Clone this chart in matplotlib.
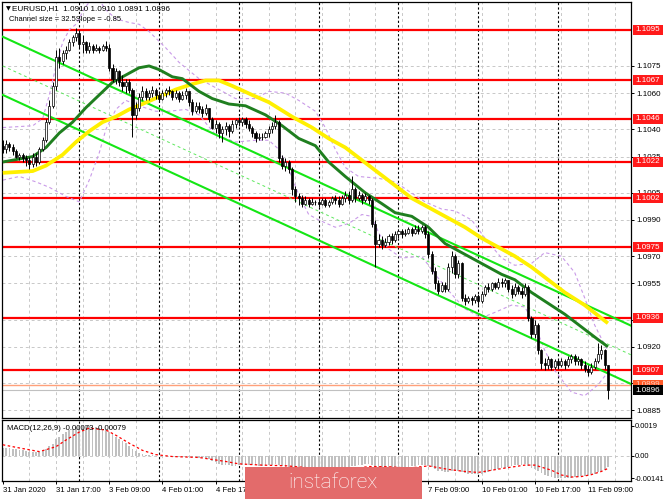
import matplotlib
matplotlib.use("Agg")
import matplotlib.pyplot as plt
import matplotlib.transforms as mtransforms
from matplotlib.patches import Rectangle

W, H = 665, 499
FONT = ['Liberation Sans', 'DejaVu Sans']

# EURUSD H1 candles, bar 0 = 31 Jan 2020 01:00, last bar = 11 Feb 15:00
first_open = 1.1031
close = [
    1.1029, 1.1032, 1.1030, 1.1028, 1.1025, 1.1026, 1.1024, 1.1023, 1.1021, 1.1025,
    1.1022, 1.1029, 1.1034, 1.1044, 1.1053, 1.1064, 1.1080, 1.1078, 1.1082, 1.1084,
    1.1088, 1.1091, 1.1093, 1.1087, 1.1088, 1.1084, 1.1086, 1.1084, 1.1085, 1.1084,
    1.1086, 1.1085, 1.1074, 1.1068, 1.1072, 1.1066, 1.1064, 1.1066, 1.1062, 1.1048,
    1.1052, 1.1058, 1.1061, 1.1058, 1.1060, 1.1062, 1.1059, 1.1057, 1.1060, 1.1062,
    1.1061, 1.1058, 1.1060, 1.1057, 1.1059, 1.1061, 1.1055, 1.1050, 1.1053, 1.1051,
    1.1049, 1.1052, 1.1046, 1.1041, 1.1043, 1.1038, 1.1040, 1.1042, 1.1039, 1.1043,
    1.1045, 1.1044, 1.1046, 1.1043, 1.1041, 1.1038, 1.1035, 1.1036, 1.1036, 1.1038,
    1.1040, 1.1042, 1.1044, 1.1024, 1.1020, 1.1022, 1.1018, 1.1007, 1.1003, 1.1002,
    1.0999, 1.1001, 1.0999, 1.1000, 1.1000, 1.0999, 1.1001, 1.0998, 1.1000, 1.1002,
    1.1001, 1.0999, 1.1002, 1.1004, 1.1001, 1.1007, 1.1002, 1.1004, 1.1001, 1.1003,
    1.1001, 1.0988, 1.0977, 1.0979, 1.0976, 1.0978, 1.0981, 1.0979, 1.0982, 1.0984,
    1.0982, 1.0983, 1.0985, 1.0983, 1.0985, 1.0984, 1.0986, 1.0982, 1.0971, 1.0962,
    1.0955, 1.0951, 1.0954, 1.0952, 1.0964, 1.0970, 1.0960, 1.0966, 1.0947, 1.0945,
    1.0947, 1.0946, 1.0948, 1.0945, 1.0949, 1.0953, 1.0952, 1.0955, 1.0953, 1.0956,
    1.0955, 1.0957, 1.0952, 1.0949, 1.0953, 1.0951, 1.0949, 1.0953, 1.0936, 1.0927,
    1.0932, 1.0918, 1.0911, 1.0910, 1.0913, 1.0909, 1.0912, 1.0910, 1.0912, 1.0910,
    1.0913, 1.0915, 1.0912, 1.0913, 1.0910, 1.0908, 1.0906, 1.0909, 1.0912, 1.0916,
    1.0918, 1.0910, 1.0896]
high = [
    1.1034, 1.1034, 1.1033, 1.1032, 1.1029, 1.1027, 1.1027, 1.1026, 1.1025, 1.1027,
    1.1027, 1.1030, 1.1036, 1.1046, 1.1056, 1.1066, 1.1084, 1.1085, 1.1084, 1.1086,
    1.1090, 1.1092, 1.1096, 1.1095, 1.1092, 1.1089, 1.1088, 1.1087, 1.1087, 1.1086,
    1.1087, 1.1089, 1.1087, 1.1076, 1.1074, 1.1073, 1.1070, 1.1068, 1.1068, 1.1063,
    1.1055, 1.1060, 1.1064, 1.1063, 1.1062, 1.1064, 1.1063, 1.1061, 1.1062, 1.1063,
    1.1064, 1.1062, 1.1062, 1.1061, 1.1061, 1.1063, 1.1061, 1.1057, 1.1055, 1.1055,
    1.1053, 1.1054, 1.1052, 1.1047, 1.1045, 1.1044, 1.1042, 1.1044, 1.1043, 1.1045,
    1.1046, 1.1047, 1.1047, 1.1047, 1.1045, 1.1042, 1.1039, 1.1038, 1.1038, 1.1039,
    1.1042, 1.1044, 1.1048, 1.1045, 1.1026, 1.1024, 1.1023, 1.1019, 1.1009, 1.1005,
    1.1004, 1.1003, 1.1002, 1.1002, 1.1001, 1.1002, 1.1002, 1.1002, 1.1001, 1.1003,
    1.1004, 1.1003, 1.1004, 1.1006, 1.1006, 1.1014, 1.1008, 1.1006, 1.1005, 1.1005,
    1.1004, 1.1002, 1.0990, 1.0982, 1.0981, 1.0980, 1.0982, 1.0983, 1.0984, 1.0985,
    1.0985, 1.0985, 1.0986, 1.0986, 1.0987, 1.0987, 1.0987, 1.0987, 1.0984, 1.0973,
    1.0964, 1.0957, 1.0956, 1.0956, 1.0966, 1.0973, 1.0971, 1.0968, 1.0967, 1.0949,
    1.0948, 1.0948, 1.0949, 1.0949, 1.0951, 1.0954, 1.0955, 1.0956, 1.0956, 1.0958,
    1.0958, 1.0958, 1.0957, 1.0954, 1.0955, 1.0954, 1.0953, 1.0955, 1.0954, 1.0937,
    1.0935, 1.0933, 1.0919, 1.0914, 1.0915, 1.0914, 1.0913, 1.0913, 1.0914, 1.0913,
    1.0915, 1.0916, 1.0916, 1.0915, 1.0914, 1.0912, 1.0910, 1.0911, 1.0914, 1.0922,
    1.0921, 1.0919, 1.0910]
low = [
    1.1027, 1.1027, 1.1028, 1.1026, 1.1024, 1.1023, 1.1022, 1.1020, 1.1018, 1.1019,
    1.1020, 1.1021, 1.1028, 1.1033, 1.1043, 1.1052, 1.1062, 1.1074, 1.1076, 1.1079,
    1.1083, 1.1086, 1.1089, 1.1085, 1.1082, 1.1082, 1.1082, 1.1082, 1.1083, 1.1082,
    1.1083, 1.1083, 1.1072, 1.1066, 1.1065, 1.1064, 1.1061, 1.1060, 1.1060, 1.1036,
    1.1046, 1.1050, 1.1056, 1.1056, 1.1056, 1.1058, 1.1057, 1.1055, 1.1056, 1.1058,
    1.1059, 1.1056, 1.1057, 1.1055, 1.1056, 1.1057, 1.1053, 1.1048, 1.1049, 1.1049,
    1.1047, 1.1048, 1.1044, 1.1040, 1.1038, 1.1035, 1.1033, 1.1037, 1.1036, 1.1038,
    1.1041, 1.1042, 1.1042, 1.1041, 1.1039, 1.1036, 1.1033, 1.1034, 1.1034, 1.1035,
    1.1036, 1.1038, 1.1040, 1.1022, 1.1018, 1.1017, 1.1016, 1.1004, 1.1000, 1.0998,
    1.0997, 1.0998, 1.0997, 1.0998, 1.0998, 1.0997, 1.0998, 1.0997, 1.0997, 1.0999,
    1.0999, 1.0997, 1.0998, 1.1000, 1.0999, 1.1000, 1.1000, 1.1001, 1.0999, 1.1000,
    1.0999, 1.0986, 1.0964, 1.0975, 1.0974, 1.0975, 1.0976, 1.0977, 1.0978, 1.0980,
    1.0980, 1.0981, 1.0982, 1.0981, 1.0982, 1.0982, 1.0983, 1.0980, 1.0969, 1.0960,
    1.0952, 1.0949, 1.0950, 1.0950, 1.0951, 1.0961, 1.0958, 1.0958, 1.0945, 1.0943,
    1.0944, 1.0943, 1.0944, 1.0943, 1.0944, 1.0948, 1.0950, 1.0951, 1.0952, 1.0952,
    1.0953, 1.0953, 1.0950, 1.0947, 1.0948, 1.0949, 1.0947, 1.0948, 1.0934, 1.0925,
    1.0925, 1.0916, 1.0908, 1.0907, 1.0908, 1.0907, 1.0908, 1.0908, 1.0909, 1.0908,
    1.0909, 1.0911, 1.0910, 1.0910, 1.0908, 1.0906, 1.0904, 1.0905, 1.0908, 1.0911,
    1.0913, 1.0908, 1.0891]

# moving averages (bar, price)
ma_green_bars = [0, 9, 13, 17, 21, 25, 29, 33, 37, 41, 44, 47, 51, 54, 59, 63, 68, 73,
                 79, 84, 89, 94, 98, 103, 109, 114, 118, 123, 128, 133, 138, 144, 150,
                 154, 159, 164, 169, 174, 179, 182]
ma_green = [1.1022, 1.1025, 1.1030, 1.1038, 1.1044, 1.1052, 1.1059, 1.1066, 1.1070,
            1.1074, 1.1075, 1.1073, 1.1069, 1.1068, 1.1061, 1.1057, 1.1054, 1.1053,
            1.1048, 1.1042, 1.1035, 1.1031, 1.1022, 1.1014, 1.1005, 1.0999, 1.0994,
            1.0992, 1.0986, 1.0977, 1.0972, 1.0966, 1.0960, 1.0957, 1.0950, 1.0944,
            1.0938, 1.0931, 1.0924, 1.0920]
ma_yellow_bars = [0, 9, 13, 18, 22, 26, 30, 34, 38, 42, 47, 52, 57, 61, 65, 69, 75, 80,
                  87, 93, 98, 103, 108, 113, 118, 123, 129, 134, 139, 144, 149, 154,
                  159, 164, 169, 175, 182]
ma_yellow = [1.1016, 1.1017, 1.1020, 1.1026, 1.1033, 1.1039, 1.1044, 1.1047, 1.1051,
             1.1054, 1.1058, 1.1062, 1.1065, 1.1067, 1.1067, 1.1064, 1.1059, 1.1055,
             1.1047, 1.1041, 1.1035, 1.1030, 1.1023, 1.1016, 1.1009, 1.1002, 1.0996,
             1.0991, 1.0986, 1.0980, 1.0975, 1.0970, 1.0964, 1.0957, 1.0950, 1.0943,
             1.0933]

# bollinger bands (bar, price)
bb_up_bars = [0, 9, 12, 14, 16, 18, 20, 22, 25, 28, 31, 34, 38, 41, 44, 49, 53, 59, 64,
              70, 76, 80, 85, 89, 94, 97, 100, 103, 107, 113, 118, 122, 127, 132, 136,
              141, 145, 150, 154, 159, 163, 168, 172, 175, 178, 181, 182]
bb_up = [1.1041, 1.1042, 1.1046, 1.1059, 1.1075, 1.1088, 1.1095, 1.1098, 1.1108, 1.1114,
         1.1106, 1.1101, 1.1099, 1.1098, 1.1094, 1.1085, 1.1077, 1.1068, 1.1063, 1.1057,
         1.1057, 1.1061, 1.1060, 1.1056, 1.1050, 1.1041, 1.1029, 1.1019, 1.1014, 1.1013,
         1.1011, 1.1006, 1.1000, 1.0996, 1.0995, 1.0990, 1.0980, 1.0969, 1.0965, 1.0966,
         1.0972, 1.0970, 1.0961, 1.0947, 1.0932, 1.0921, 1.0918]
bb_lo_bars = [0, 5, 10, 14, 19, 23, 26, 29, 31, 34, 37, 41, 46, 50, 55, 59, 64, 70, 76,
              80, 83, 86, 89, 92, 95, 100, 104, 108, 111, 113, 116, 120, 126, 130, 135,
              139, 144, 148, 153, 157, 160, 163, 166, 171, 175, 179, 182]
bb_lo = [1.1012, 1.1014, 1.1011, 1.1008, 1.1003, 1.1000, 1.1012, 1.1027, 1.1040, 1.1051,
         1.1056, 1.1053, 1.1050, 1.1050, 1.1051, 1.1048, 1.1037, 1.1033, 1.1034, 1.1034,
         1.1029, 1.1018, 1.1004, 1.0993, 1.0990, 1.0986, 1.0988, 1.0993, 1.0992, 1.0983,
         1.0974, 1.0969, 1.0970, 1.0960, 1.0949, 1.0941, 1.0936, 1.0939, 1.0943, 1.0942,
         1.0932, 1.0918, 1.0907, 1.0895, 1.0893, 1.0899, 1.0906]

# regression channel, price at left edge and right edge
chan_bars = [0, 188.9]
chan_top = [1.10911, 1.09317]
chan_mid = [1.10750, 1.09156]
chan_bot = [1.10590, 1.08995]

levels = [1.1095, 1.1067, 1.1046, 1.1022, 1.1002, 1.0975, 1.0936, 1.0907]
ask_level = 1.0899
bid_level = 1.0896

price_ticks = [1.1075, 1.1060, 1.1040, 1.1025, 1.1005, 1.0990, 1.0970, 1.0955,
               1.0935, 1.0920, 1.0900, 1.0885]

# MACD(12,26,9) main line in 1e-5 units, one value per bar
macd_e5 = [
    52, 50, 48, 45, 42, 38, 35, 30, 26, 24,
    22, 25, 32, 45, 60, 78, 105, 122, 138, 150,
    162, 172, 182, 186, 189, 190, 188, 184, 180, 175,
    170, 165, 150, 135, 122, 108, 95, 82, 62, 42,
    28, 18, 12, 8, 5, 3, 2, 0, -1, -2,
    -3, -4, -5, -6, -6, -5, -7, -9, -10, -11,
    -13, -15, -20, -30, -40, -48, -55, -58, -60, -62,
    -62, -60, -58, -57, -57, -58, -60, -61, -61, -60,
    -58, -56, -54, -60, -66, -70, -74, -82, -89, -94,
    -98, -100, -101, -101, -100, -98, -95, -92, -89, -85,
    -82, -80, -76, -72, -70, -64, -62, -58, -57, -54,
    -53, -60, -70, -75, -80, -82, -82, -82, -80, -77,
    -75, -72, -68, -66, -63, -60, -57, -56, -62, -72,
    -83, -92, -98, -102, -100, -96, -97, -95, -104, -110,
    -114, -116, -116, -116, -112, -108, -103, -97, -91, -85,
    -79, -74, -69, -64, -60, -57, -55, -54, -62, -75,
    -84, -97, -110, -120, -127, -132, -136, -138, -140, -141,
    -139, -136, -133, -130, -127, -124, -121, -117, -112, -104,
    -96, -88, -73]
sig_bars = [0, 5, 11, 16, 19, 23, 26, 31, 34, 38, 42, 46, 51, 59, 67, 71, 78, 85, 92,
            98, 104, 110, 116, 122, 128, 134, 139, 143, 150, 157, 160, 165, 168, 171,
            174, 177, 180, 182]
sig_e5 = [70, 50, 27, 58, 100, 150, 175, 163, 130, 80, 35, 8, -4, -10, -35, -50, -58,
          -62, -75, -95, -85, -67, -68, -77, -63, -85, -98, -104, -80, -58, -58, -90,
          -120, -133, -130, -118, -98, -79]
macd_ticks = [0.0019, 0.0, -0.00141]
macd_tick_labels = ['0.0019', '0.00', '-0.00141']

date_bars = [0, 16, 32, 48, 64, 80, 96, 112, 128, 144, 160, 176]
date_labels = ['31 Jan 2020', '31 Jan 17:00', '3 Feb 09:00', '4 Feb 01:00',
               '4 Feb 17:00', '5 Feb 09:00', '6 Feb 01:00', '6 Feb 17:00',
               '7 Feb 09:00', '10 Feb 01:00', '10 Feb 17:00', '11 Feb 09:00']
day_bars = [23, 47, 71, 95, 119, 143, 167]


def fx(px):
    return px / W


def fy(py):
    return 1 - py / H


plt.rcParams['font.family'] = FONT
fig = plt.figure(figsize=(W / 100, H / 100), dpi=100)
fig.patch.set_facecolor('white')

ax = fig.add_axes([fx(2), fy(418), 629 / W, 416 / H])
ax2 = fig.add_axes([fx(2), fy(481), 629 / W, 61 / H])

xlim = (-0.24, 188.93)
for a in (ax, ax2):
    a.set_xlim(*xlim)
    for s in a.spines.values():
        s.set_color('black')
        s.set_linewidth(0.9)
    for b in range(8, 189, 8):
        a.axvline(b, color='#c8c8c8', lw=0.7, ls=(0, (3, 3)), zorder=0.5)
    for b in day_bars:
        a.axvline(b, color='black', lw=0.8, ls=(0, (2, 2)), zorder=0.6)

ax.set_ylim(1.08807, 1.11103)
for t in price_ticks:
    ax.axhline(t, color='#c8c8c8', lw=0.7, ls=(0, (3, 3)), zorder=0.5)

# horizontal levels
for lvl in levels:
    ax.axhline(lvl, color='#ff0000', lw=1.6, zorder=2)
ax.axhline(ask_level, color='#ffa07a', lw=1.0, zorder=2)
ax.axhline(bid_level, color='#c0c0c0', lw=0.8, zorder=2)

# bollinger
ax.plot(bb_up_bars, bb_up, color='#c99ae8', lw=0.8, ls=(0, (3, 2.5)), zorder=2.5)
ax.plot(bb_lo_bars, bb_lo, color='#c99ae8', lw=0.8, ls=(0, (3, 2.5)), zorder=2.5)

# channel
ax.plot(chan_bars, chan_top, color='#14e614', lw=1.5, zorder=3)
ax.plot(chan_bars, chan_bot, color='#14e614', lw=1.5, zorder=3)
ax.plot(chan_bars, chan_mid, color='#5ee85e', lw=0.7, ls=(0, (3, 3)), zorder=3)

# moving averages
ax.plot(ma_yellow_bars, ma_yellow, color='#fff000', lw=2.7, zorder=3.2,
        solid_capstyle='butt')
ax.plot(ma_green_bars, ma_green, color='#1f7f1f', lw=2.1, zorder=3.3,
        solid_capstyle='butt')

# candles
opens = [first_open] + close[:-1]
xs = list(range(len(close)))
body_lo = [min(o, c) for o, c in zip(opens, close)]
body_h = [abs(c - o) for o, c in zip(opens, close)]
face = ['white' if c > o else 'black' for o, c in zip(opens, close)]
ax.vlines(xs, low, high, color='black', lw=0.7, zorder=4)
ax.bar(xs, body_h, bottom=body_lo, width=0.62, color=face, edgecolor='black',
       linewidth=0.5, zorder=5)

# right price scale
ax.yaxis.tick_right()
ax.set_yticks(price_ticks)
ax.set_yticklabels([f'{t:.4f}' for t in price_ticks])
ax.tick_params(axis='y', length=2.5, width=0.7, pad=1.5, labelsize=5.8, colors='black')
ax.set_xticks([])

trans = mtransforms.blended_transform_factory(ax.transAxes, ax.transData)
px_unit = 416 / (1.11103 - 1.08807)
box_h = 10 / px_unit
box_x = 1.5 / 629 + 1.0
box_w = 30 / 629


def price_box(lvl, fc, tc, z):
    ax.add_patch(Rectangle((box_x, lvl - box_h / 2), box_w, box_h, transform=trans,
                           facecolor=fc, edgecolor='none', clip_on=False, zorder=z))
    ax.text(box_x + box_w / 2, lvl, f'{lvl:.4f}', transform=trans, ha='center',
            va='center', color=tc, fontsize=5.8, clip_on=False, zorder=z + 0.1)


for lvl in levels:
    price_box(lvl, '#ff1a1a', 'white', 6)
price_box(ask_level, '#ff5a28', '#ffd0c0', 6)
price_box(bid_level, 'black', 'white', 7)

# header texts
fig.text(fx(6), fy(8.5), '\u25bc', fontsize=4.5, va='center', ha='left',
         family=['DejaVu Sans'])
fig.text(fx(12), fy(8.5), 'EURUSD,H1  1.0910 1.0910 1.0891 1.0896', fontsize=5.9,
         va='center', ha='left')
fig.text(fx(9), fy(19.5), 'Channel size = 32.5Slope = -0.85', fontsize=5.4,
         va='center', ha='left')

# MACD panel
ax2.set_ylim(-0.00158, 0.00226)
ax2.axhline(0, color='#c8c8c8', lw=0.7, ls=(0, (3, 3)), zorder=0.5)
ax2.bar(xs, [v * 1e-5 for v in macd_e5], width=0.55, color='#c0c0c0', zorder=2)
ax2.plot(sig_bars, [v * 1e-5 for v in sig_e5], color='#ff0000', lw=0.9,
         ls=(0, (2, 2)), zorder=3)
ax2.yaxis.tick_right()
ax2.set_yticks(macd_ticks)
ax2.set_yticklabels(macd_tick_labels)
ax2.tick_params(axis='y', length=2, width=0.7, pad=0.8, labelsize=5.4)
ax2.set_xticks(date_bars)
ax2.set_xticklabels(date_labels)
ax2.tick_params(axis='x', length=2.5, width=0.7, pad=2, labelsize=5.6)
for lbl in ax2.get_xticklabels():
    lbl.set_ha('left')
ax2.text(5 / 629, 0.86, 'MACD(12,26,9) -0.00073 -0.00079', transform=ax2.transAxes,
         fontsize=5.6, ha='left', va='center')

# watermark
fig.patches.append(Rectangle((fx(245), 0), 177 / W, 32 / H, transform=fig.transFigure,
                             facecolor='#e36b6b', edgecolor='none', zorder=10))
fig.text(fx(333), fy(482), 'instaforex', color='white', fontsize=15, ha='center',
         va='center', zorder=11, family=['Roboto', 'DejaVu Sans'], weight='light')

fig.savefig('out.png', dpi=100)
